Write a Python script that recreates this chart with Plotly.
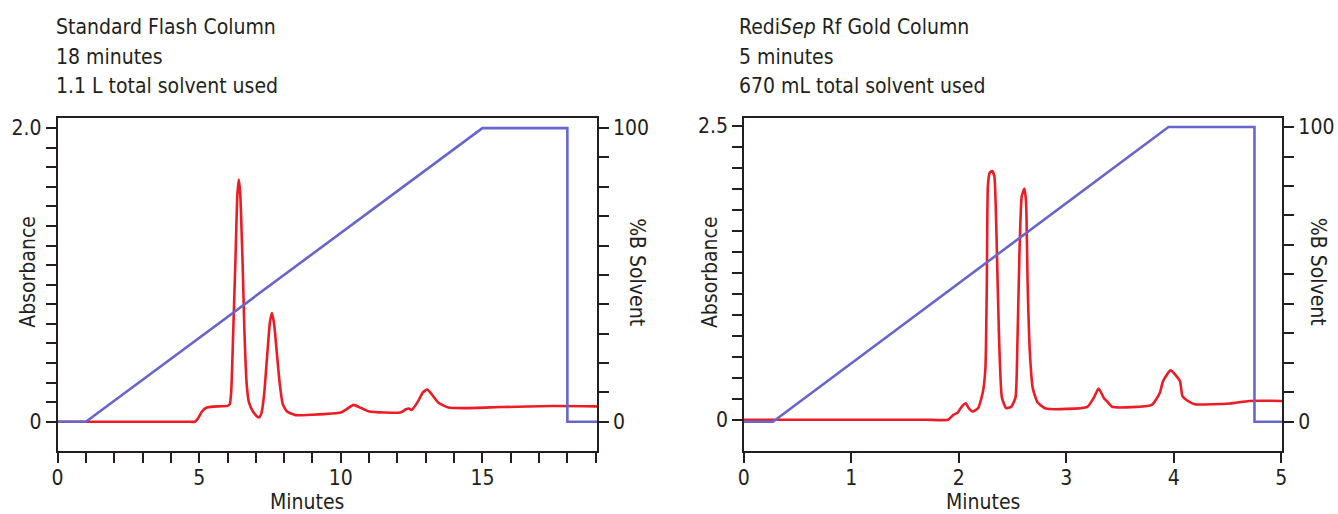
import plotly.graph_objects as go

W, H = 1338, 514
FONT = "DejaVu Sans Condensed, DejaVu Sans, sans-serif"
INK = "#231f20"
RED = "#ed1c24"
BLUE = "#6666cc"

# ---- Left chart: Standard Flash Column ----
std_time = [0, 2.0, 4.0, 4.6, 4.85, 4.95, 5.1, 5.25, 5.5, 6.0, 6.08, 6.13, 6.2, 6.28, 6.35, 6.4, 6.45,
            6.53, 6.6, 6.68, 6.76, 6.9, 7.05, 7.12, 7.2, 7.3, 7.4, 7.5, 7.57, 7.65, 7.75, 7.85, 7.95,
            8.1, 8.4, 9.0, 10.0, 10.2, 10.45, 10.7, 11.0, 12.1, 12.3, 12.4, 12.5, 12.7, 12.9, 13.05,
            13.2, 13.45, 13.8, 14.4, 15.7, 17.5, 19.05]
std_abs = [0, 0, 0, 0, 0, 0.02, 0.07, 0.095, 0.103, 0.108, 0.12, 0.2, 0.6, 1.1, 1.55, 1.65, 1.55,
           1.1, 0.6, 0.25, 0.13, 0.07, 0.035, 0.03, 0.06, 0.2, 0.45, 0.68, 0.74, 0.66, 0.45, 0.25, 0.12,
           0.07, 0.045, 0.048, 0.063, 0.085, 0.115, 0.095, 0.07, 0.063, 0.085, 0.09, 0.08, 0.13, 0.2,
           0.22, 0.19, 0.13, 0.097, 0.093, 0.1, 0.107, 0.105]
std_grad_t = [0, 1.0, 15.0, 18.0, 18.0, 19.05]
std_grad_b = [0, 0, 100, 100, 0, 0]

# ---- Right chart: RediSep Rf Gold Column ----
gold_time = [0, 0.6, 1.2, 1.7, 1.9, 1.95, 1.99, 2.025, 2.065, 2.09, 2.13, 2.18, 2.225, 2.247, 2.26,
             2.27, 2.287, 2.31, 2.33, 2.35, 2.373, 2.40, 2.44, 2.487, 2.527, 2.543, 2.564, 2.585,
             2.61, 2.625, 2.64, 2.66, 2.687, 2.733, 2.81, 3.195, 3.257, 3.30, 3.35, 3.38, 3.426,
             3.795, 3.87, 3.90, 3.97, 4.056, 4.08, 4.12, 4.195, 4.52, 4.70, 5.01]
gold_abs = [0, 0, 0, 0, 0, 0.042, 0.062, 0.11, 0.14, 0.10, 0.07, 0.10, 0.245, 0.44, 1.145,
            1.99, 2.10, 2.115, 2.07, 1.57, 0.72, 0.19, 0.099, 0.11, 0.19, 0.58, 1.43, 1.90,
            1.966, 1.85, 1.145, 0.58, 0.27, 0.146, 0.095, 0.11, 0.19, 0.265, 0.183, 0.155, 0.11,
            0.127, 0.23, 0.33, 0.42, 0.33, 0.20, 0.166, 0.132, 0.138, 0.16, 0.16]
gold_grad_t = [0, 0.27, 3.95, 4.75, 4.75, 5.01]
gold_grad_b = [0, 0, 100, 100, 0, 0]

left_abs_ticks = [i * 2.0 / 15 for i in range(16)]
left_abs_text = ["0"] + [""] * 14 + ["2.0"]
right_abs_ticks = [i * 2.5 / 14 for i in range(15)]
right_abs_text = ["0"] + [""] * 13 + ["2.5"]
pct_ticks = list(range(0, 101, 10))
pct_text = ["0"] + [""] * 9 + ["100"]


def px(x):
    return x / W


def py(y):
    return 1 - y / H


fig = go.Figure()
fig.add_trace(go.Scatter(x=std_time, y=std_abs, mode="lines", xaxis="x", yaxis="y",
                         line=dict(color=RED, width=2.6, shape="spline", smoothing=0.5)))
fig.add_trace(go.Scatter(x=std_grad_t, y=std_grad_b, mode="lines", xaxis="x", yaxis="y2",
                         line=dict(color=BLUE, width=2.6)))
fig.add_trace(go.Scatter(x=gold_time, y=gold_abs, mode="lines", xaxis="x2", yaxis="y3",
                         line=dict(color=RED, width=2.6, shape="spline", smoothing=0.5)))
fig.add_trace(go.Scatter(x=gold_grad_t, y=gold_grad_b, mode="lines", xaxis="x2", yaxis="y4",
                         line=dict(color=BLUE, width=2.6)))

tickfont = dict(family=FONT, size=21, color=INK)
ax_common = dict(showline=True, linecolor=INK, linewidth=1.5, ticks="outside", ticklen=10,
                 tickwidth=1.5, tickcolor=INK, showgrid=False, zeroline=False, tickfont=tickfont,
                 fixedrange=True)

ydom = [py(451), py(115)]
fig.update_layout(
    width=W, height=H, margin=dict(l=0, r=0, t=0, b=0),
    paper_bgcolor="white", plot_bgcolor="white", showlegend=False,
    xaxis=dict(**ax_common, domain=[px(52), px(596)], range=[0, 19.05], anchor="y",
               tickmode="linear", tick0=0, dtick=5, mirror=True, ticklabelstandoff=-3,
               minor=dict(dtick=1, tick0=0, ticks="outside", ticklen=10, tickwidth=1.5, tickcolor=INK)),
    yaxis=dict(**ax_common, domain=ydom, range=[-0.2026, 2.068], anchor="x",
               tickmode="array", tickvals=left_abs_ticks, ticktext=left_abs_text),
    yaxis2=dict(**ax_common, overlaying="y", side="right", anchor="x", range=[-10.13, 103.4],
                tickmode="array", tickvals=pct_ticks, ticktext=pct_text),
    xaxis2=dict(**ax_common, domain=[px(744), px(1287)], range=[0, 5.01], anchor="y3",
                tickmode="linear", tick0=0, dtick=1, mirror=True, ticklabelstandoff=-3),
    yaxis3=dict(**ax_common, domain=ydom, range=[-0.27, 2.565], anchor="x2",
                tickmode="array", tickvals=right_abs_ticks, ticktext=right_abs_text),
    yaxis4=dict(**ax_common, overlaying="y3", side="right", anchor="x2", range=[-10.1, 103.03],
                tickmode="array", tickvals=pct_ticks, ticktext=pct_text),
)

tfont = dict(family=FONT, size=21, color=INK)
ann = []
for x0, lines in [(48, ["Standard Flash Column", "18 minutes", "1.1 L total solvent used"]),
                  (737, ["Redi<i>Sep</i> Rf Gold Column", "5 minutes", "670 mL total solvent used"])]:
    for i, t in enumerate(lines):
        ann.append(dict(text=t, x=px(x0), y=py(23 + 30 * i), xref="paper", yref="paper",
                        xanchor="left", yanchor="middle", showarrow=False, font=tfont))
for x0, y0, t, ang in [(22, 270, "Absorbance", -90), (636, 270, "%B Solvent", 90),
                       (710, 270, "Absorbance", -90), (1323, 270, "%B Solvent", 90),
                       (303, 502, "Minutes", 0), (985, 502, "Minutes", 0)]:
    ann.append(dict(text=t, x=px(x0), y=py(y0), xref="paper", yref="paper", xanchor="center",
                    yanchor="middle", showarrow=False, font=tfont, textangle=ang))
fig.update_layout(annotations=ann)

fig.write_html("out.html", config={"displayModeBar": False},
               post_script="document.body.style.margin='0';document.body.style.overflow='hidden';")
